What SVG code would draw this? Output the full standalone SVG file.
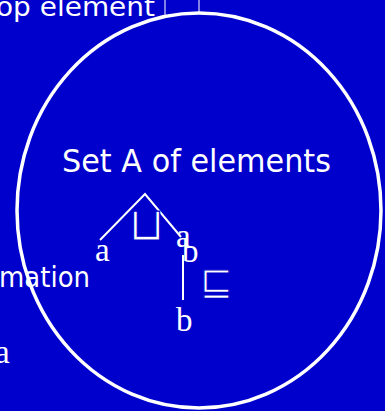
<svg xmlns="http://www.w3.org/2000/svg" width="385" height="411" viewBox="0 0 385 411">
<style>
.bg{fill:#0000CC}
.hand{font-family:"DejaVu Sans",sans-serif;fill:#fff}
.serif{font-family:"Liberation Serif","DejaVu Serif",serif;fill:#fff;font-size:33px}
.sym{font-family:"DejaVu Sans",sans-serif;fill:#fff;stroke:#0000CC;stroke-width:1.2}
.ln{stroke:#fff;fill:none}
</style>
<rect class="bg" x="0" y="0" width="385" height="411"/>
<g id="top-label">
<text class="hand" x="-4" y="16" font-size="27" textLength="159" lengthAdjust="spacingAndGlyphs">op element</text>
</g>
<g id="left-label">
<text class="hand" x="-1" y="287" font-size="28" textLength="91" lengthAdjust="spacingAndGlyphs">mation</text>
</g>
<g id="left-a">
<text class="serif" x="-5" y="363">a</text>
</g>
<g id="set-A">
<ellipse class="ln" cx="199" cy="210.5" rx="182" ry="197.5" stroke-width="3.5"/>
<text class="hand" x="62" y="172" font-size="32" textLength="269" lengthAdjust="spacingAndGlyphs">Set A of elements</text>
</g>
<g id="connectors">
<line class="ln" x1="165" y1="0" x2="165" y2="15" stroke-width="1"/>
<line class="ln" x1="199" y1="0" x2="199" y2="13" stroke-width="1"/>
<polyline class="ln" points="100,240 145,194 181,237" stroke-width="2"/>
<line class="ln" x1="183" y1="255" x2="183" y2="300" stroke-width="2"/>
</g>
<g id="node-join">
<text class="sym" x="146.5" y="240" font-size="46" text-anchor="middle">⊔</text>
</g>
<g id="node-a-left"><text class="serif" x="95" y="261">a</text></g>
<g id="node-ab"><text class="serif" x="176" y="247">a</text><text class="serif" x="182" y="262">b</text></g>
<g id="node-order"><text class="sym" x="216.5" y="295" font-size="40" text-anchor="middle">⊑</text></g>
<g id="node-b"><text class="serif" x="176" y="331">b</text></g>
</svg>
